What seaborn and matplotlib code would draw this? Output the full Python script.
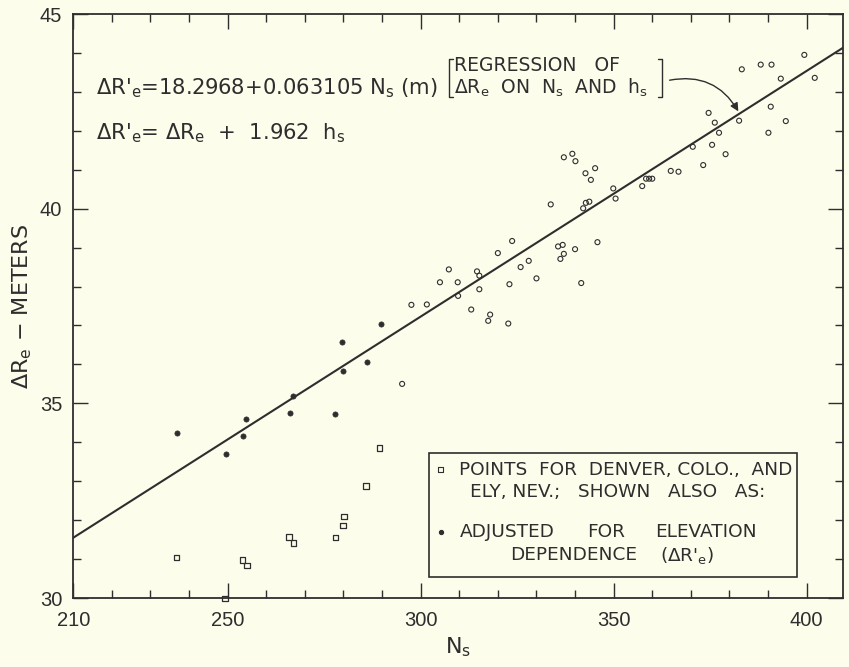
import numpy as np
import pandas as pd
import seaborn as sns
import matplotlib.pyplot as plt
from matplotlib.patches import Rectangle

# open circles: stations used in regression
circ_ns = [295.2, 297.6, 301.6, 305.0, 307.3, 309.6, 309.7, 313.1, 314.6, 315.2, 315.2,
           317.5, 318.0, 320.0, 322.7, 323.0, 323.7, 325.9, 328.0, 330.0, 333.7, 335.6,
           336.8, 336.2, 337.1, 337.1, 339.3, 340.1, 340.0, 341.6, 342.1, 342.8, 343.7,
           342.7, 345.2, 344.1, 345.8, 349.9, 350.5, 357.4, 358.4, 359.2, 360.0, 364.8,
           366.8, 370.5, 373.2, 374.6, 375.5, 376.2, 377.3, 379.0, 382.5, 383.2, 388.1,
           390.9, 390.7, 390.1, 393.3, 394.6, 399.4, 402.1]
circ_dre = [35.50, 37.53, 37.54, 38.11, 38.44, 38.11, 37.76, 37.41, 38.39, 38.28, 37.93,
            37.12, 37.28, 38.86, 37.05, 38.06, 39.17, 38.50, 38.66, 38.21, 40.11, 39.03,
            39.07, 38.71, 38.84, 41.32, 41.41, 41.22, 38.96, 38.09, 40.01, 40.15, 40.18,
            40.91, 41.04, 40.74, 39.14, 40.52, 40.26, 40.58, 40.77, 40.77, 40.77, 40.97,
            40.95, 41.59, 41.12, 42.46, 41.64, 42.21, 41.95, 41.40, 42.26, 43.58, 43.70,
            43.70, 42.62, 41.95, 43.34, 42.25, 43.95, 43.36]

# squares: Denver and Ely
sq_ns = [236.7, 249.3, 253.8, 255.0, 265.9, 267.0, 277.9, 279.9, 280.1, 285.9, 289.3]
sq_dre = [31.04, 29.99, 30.97, 30.83, 31.57, 31.42, 31.55, 31.86, 32.09, 32.88, 33.85]

# filled dots: adjusted for elevation
dot_ns = [237.0, 249.5, 254.0, 254.8, 266.1, 266.8, 277.8, 279.7, 279.9, 286.1, 289.7]
dot_dre = [34.25, 33.70, 34.15, 34.61, 34.76, 35.19, 34.73, 36.57, 35.83, 36.05, 37.05]

intercept = 18.2968
slope = 0.063105
line_ns = [210, 409.5]

x_major = [210, 250, 300, 350, 400]
y_major = [30, 35, 40, 45]

ink = "#2e2e2e"
paper = "#fdfdec"

sns.set_style("ticks")
plt.rcParams["font.family"] = ["DejaVu Sans"]
plt.rcParams["mathtext.fontset"] = "dejavusans"

fig = plt.figure(figsize=(8.49, 6.67), dpi=100, facecolor=paper)
ax = fig.add_axes([0.0863, 0.1034, 0.9070, 0.8756])
ax.set_facecolor(paper)

circles = pd.DataFrame({"Ns": circ_ns, "dRe": circ_dre})
squares = pd.DataFrame({"Ns": sq_ns, "dRe": sq_dre})
dots = pd.DataFrame({"Ns": dot_ns, "dRe": dot_dre})
reg = pd.DataFrame({"Ns": line_ns, "dRe": [intercept + slope * v for v in line_ns]})

sns.lineplot(data=reg, x="Ns", y="dRe", ax=ax, color=ink, lw=1.5)
sns.scatterplot(data=circles, x="Ns", y="dRe", ax=ax, marker="o", s=13,
                facecolor="none", edgecolor=ink, linewidth=0.8)
sns.scatterplot(data=squares, x="Ns", y="dRe", ax=ax, marker="s", s=16,
                facecolor="none", edgecolor=ink, linewidth=0.9, clip_on=False)
sns.scatterplot(data=dots, x="Ns", y="dRe", ax=ax, marker="o", s=14,
                color=ink, edgecolor=ink, linewidth=0.5)

ax.set_xlim(210, 409.5)
ax.set_ylim(30, 45)
ax.set_xticks(x_major)
ax.set_xticks(np.arange(220, 410, 10), minor=True)
ax.set_yticks(y_major)
ax.set_yticks(np.arange(31, 45, 1), minor=True)

tick_font = ["Liberation Sans Narrow", "Liberation Sans", "DejaVu Sans"]
for lab in ax.get_xticklabels() + ax.get_yticklabels():
    lab.set_family(tick_font)
    lab.set_fontsize(14.5)
    lab.set_color(ink)
ax.tick_params(which="major", direction="in", length=11, width=1.0, color=ink,
               top=True, right=True)
ax.tick_params(which="minor", direction="in", length=6, width=1.0, color=ink,
               top=True, right=True)
ax.tick_params(axis="x", which="major", pad=9)
ax.tick_params(axis="y", which="major", pad=8)
for sp in ax.spines.values():
    sp.set_color(ink)
    sp.set_linewidth(1.3)

ax.set_xlabel(r"N$_{\rm s}$", fontsize=16, color=ink, labelpad=4)
ax.set_ylabel(r"$\Delta$R$_{\rm e}$ $-$ METERS", fontsize=16, color=ink, labelpad=4)

# equations
ax.text(215.9, 43.10, r"$\Delta$R$'_{\rm e}$=18.2968+0.063105 N$_{\rm s}$ (m)",
        fontsize=15.2, color=ink, ha="left", va="center")
ax.text(215.9, 41.94, r"$\Delta$R$'_{\rm e}$= $\Delta$R$_{\rm e}$  +  1.962  h$_{\rm s}$",
        fontsize=15.2, color=ink, ha="left", va="center")

# bracketed note
ax.text(308.6, 43.68, "REGRESSION   OF", fontsize=13.5, color=ink, ha="left", va="center")
ax.text(308.6, 43.10, r"$\Delta$R$_{\rm e}$  ON  N$_{\rm s}$  AND  h$_{\rm s}$",
        fontsize=13.5, color=ink, ha="left", va="center")
for bx, sx in [(307.4, 0.9), (362.4, -0.9)]:
    ax.plot([bx + sx, bx, bx, bx + sx], [43.84, 43.84, 42.87, 42.87], color=ink, lw=1.0)

ax.annotate("", xy=(382.3, 42.50), xytext=(364.5, 43.30),
            arrowprops=dict(arrowstyle="-|>", color=ink, lw=1.0, mutation_scale=12,
                            connectionstyle="arc3,rad=-0.35", shrinkA=0, shrinkB=0))

# legend box
ax.add_patch(Rectangle((302.2, 30.55), 95.2, 3.17, facecolor=paper, edgecolor=ink,
                       lw=1.2, zorder=3))
ax.scatter([305.2], [33.30], marker="s", s=12, facecolor="none", edgecolor=ink,
           linewidth=0.8, zorder=4)
ax.scatter([305.2], [31.70], marker="o", s=8, color=ink, zorder=4)
leg_kw = dict(fontsize=13.3, color=ink, va="center", ha="left", zorder=4)
ax.text(309.9, 33.30, "POINTS  FOR  DENVER, COLO.,  AND", **leg_kw)
ax.text(312.8, 32.72, "ELY, NEV.;   SHOWN   ALSO   AS:", **leg_kw)
for wx, word in [(310.2, "ADJUSTED"), (343.1, "FOR"), (360.7, "ELEVATION")]:
    ax.text(wx, 31.70, word, **leg_kw)
ax.text(323.3, 31.10, "DEPENDENCE", **leg_kw)
ax.text(361.9, 31.10, r"($\Delta$R$'_{\rm e}$)", **leg_kw)

fig.savefig("out.png", dpi=100, facecolor=paper)
